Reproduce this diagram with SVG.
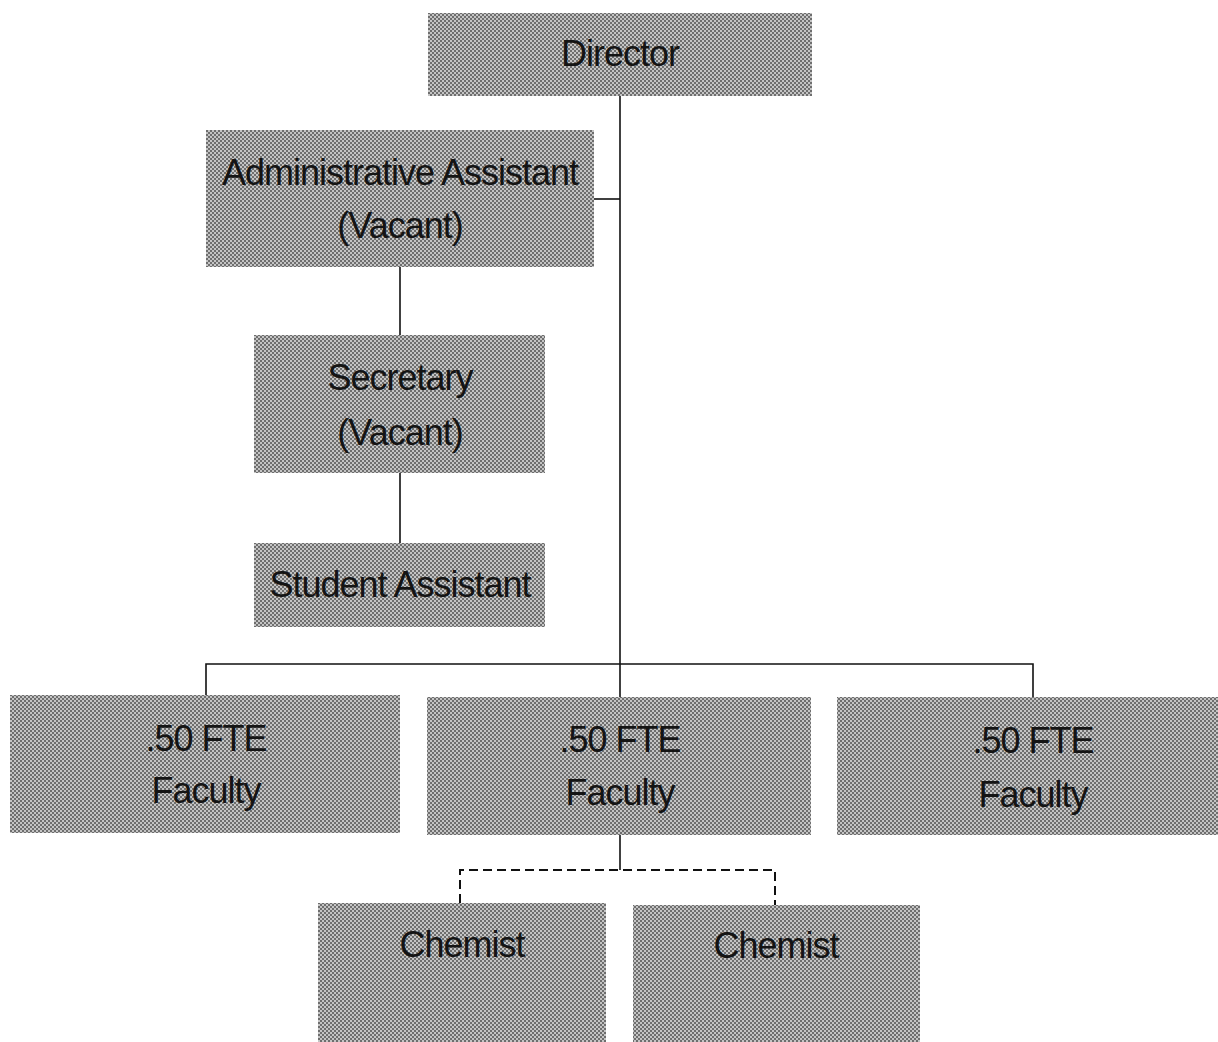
<svg xmlns="http://www.w3.org/2000/svg" width="1218" height="1042" viewBox="0 0 1218 1042">
<defs>
<pattern id="ht" width="4" height="4" patternUnits="userSpaceOnUse">
<rect width="4" height="4" fill="#c4c4c4"/>
<rect width="2" height="2" fill="#6e6e6e"/>
<rect x="2" y="2" width="2" height="2" fill="#6e6e6e"/>
</pattern>
</defs>
<style>
.box{fill:url(#ht);}
.t{font-family:"Liberation Sans",Arial,sans-serif;font-size:36px;letter-spacing:-1px;fill:#141414;text-anchor:middle;}
.ln{stroke:#111;stroke-width:1.6;fill:none;}
.dash{stroke:#111;stroke-width:2;fill:none;stroke-dasharray:9 5;}
</style>
<rect width="1218" height="1042" fill="#ffffff"/>
<g id="connectors">
<path class="ln" d="M620 96 V664"/>
<path class="ln" d="M594 199 H620"/>
<path class="ln" d="M400 267 V335"/>
<path class="ln" d="M400 473 V543"/>
<path class="ln" d="M206 695 V664 H1033 V697"/>
<path class="ln" d="M620 664 V697"/>
<path class="ln" d="M620 835 V870"/>
<path class="dash" d="M460 903 V870 H775 V905"/>
</g>
<g id="director"><rect class="box" x="428" y="13" width="384" height="83"/><text class="t" x="620" y="66">Director</text></g>
<g id="admin"><rect class="box" x="206" y="130" width="388" height="137"/><text class="t" x="400" y="185">Administrative Assistant</text><text class="t" x="400" y="238">(Vacant)</text></g>
<g id="secretary"><rect class="box" x="254" y="335" width="291" height="138"/><text class="t" x="400" y="390">Secretary</text><text class="t" x="400" y="445">(Vacant)</text></g>
<g id="student"><rect class="box" x="254" y="543" width="291" height="84"/><text class="t" x="400" y="597">Student Assistant</text></g>
<g id="faculty1"><rect class="box" x="10" y="695" width="390" height="138"/><text class="t" x="206" y="751">.50 FTE</text><text class="t" x="206" y="803">Faculty</text></g>
<g id="faculty2"><rect class="box" x="427" y="697" width="384" height="138"/><text class="t" x="620" y="752">.50 FTE</text><text class="t" x="620" y="805">Faculty</text></g>
<g id="faculty3"><rect class="box" x="837" y="697" width="381" height="138"/><text class="t" x="1033" y="753">.50 FTE</text><text class="t" x="1033" y="807">Faculty</text></g>
<g id="chemist1"><rect class="box" x="318" y="903" width="288" height="139"/><text class="t" x="462" y="957">Chemist</text></g>
<g id="chemist2"><rect class="box" x="633" y="905" width="287" height="137"/><text class="t" x="776" y="958">Chemist</text></g>
</svg>
